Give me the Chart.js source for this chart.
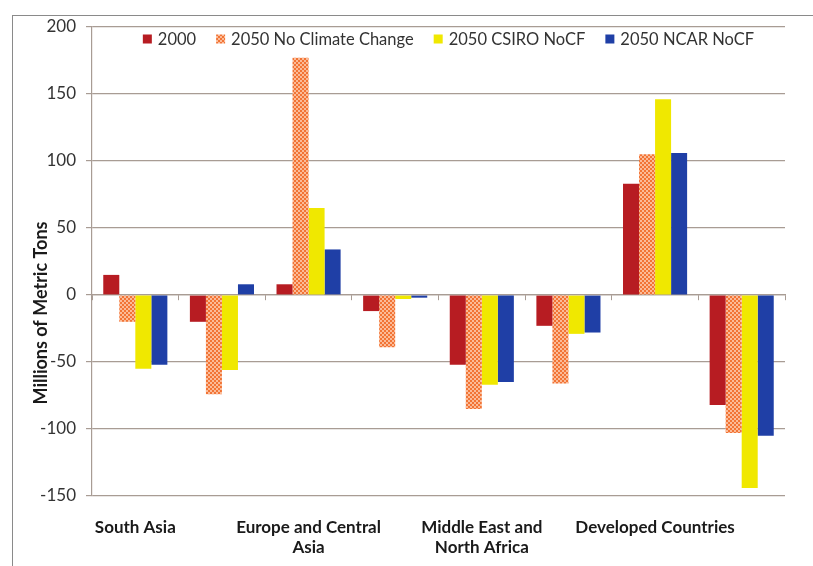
<!DOCTYPE html>
<html>
<head>
<meta charset="utf-8">
<title>Millions of Metric Tons</title>
<script src="https://cdn.jsdelivr.net/npm/chart.js@4.4.1/dist/chart.umd.min.js"></script>
<style>
  html, body { margin: 0; padding: 0; background: #fff; }
  #wrap { position: relative; width: 813px; height: 566px; }
  #frame { position: absolute; left: 12px; top: 15px; width: 820px; height: 580px;
           border-left: 1.5px solid #8a8a8a; border-top: 1.5px solid #8a8a8a; }
  canvas { position: absolute; left: 0; top: 0; }
</style>
</head>
<body>
<div id="wrap">
  <div id="frame"></div>
  <canvas id="myChart" width="813" height="566"></canvas>
</div>
<script>
// regions (only every other label is shown, like the original)
const regions = [
  "South Asia",
  "East Asia and Pacific",
  "Europe and Central Asia",
  "Latin America and Caribbean",
  "Middle East and North Africa",
  "Sub-Saharan Africa",
  "Developed Countries",
  "Developing Countries",
];
const shownLabels = {
  0: ["South Asia"],
  2: ["Europe and Central", "Asia"],
  4: ["Middle East and", "North Africa"],
  6: ["Developed Countries"],
};

const y2000 = [15, -20, 8, -12, -52, -23, 83, -82];
const noClimateChange = [-20, -74, 177, -39, -85, -66, 105, -103];
const csiroNoCF = [-55, -56, 65, -3, -67, -29, 146, -144];
const ncarNoCF = [-52, 8, 34, -2, -65, -28, 106, -105];

const yTicks = [200, 150, 100, 50, 0, -50, -100, -150];

// dotted orange fill for the no-climate-change series
function dotPattern() {
  const c = document.createElement("canvas");
  c.width = 4;
  c.height = 4;
  const g = c.getContext("2d");
  g.fillStyle = "#f27435";
  g.fillRect(0, 0, 4, 4);
  g.fillStyle = "#fbbb98";
  g.fillRect(0, 0, 2, 2);
  g.fillRect(2, 2, 2, 2);
  return g.createPattern(c, "repeat");
}

const yTitlePlugin = {
  id: "yTitle",
  afterDraw(chart) {
    const ctx = chart.ctx;
    ctx.save();
    ctx.translate(41, 313);
    ctx.rotate(-Math.PI / 2);
    ctx.font = "bold 18px Lato";
    ctx.fillStyle = "#1a1a1a";
    ctx.textAlign = "center";
    ctx.textBaseline = "middle";
    ctx.fillText("Millions of Metric Tons", 0, 0);
    ctx.restore();
  },
};

// legend sits inside the plot, in one row just under the top line
const topLegendPlugin = {
  id: "topLegend",
  afterDraw(chart) {
    const ctx = chart.ctx;
    const area = chart.chartArea;
    const box = 9, gapText = 6, gapItem = 20;
    ctx.save();
    ctx.font = "16.5px Lato";
    const items = chart.data.datasets.map((ds) => ({
      label: ds.label,
      fill: ds.backgroundColor,
      w: box + gapText + ctx.measureText(ds.label).width,
    }));
    const total = items.reduce((s, it) => s + it.w, 0) + gapItem * (items.length - 1);
    let x = (area.left + area.right) / 2 + 10 - total / 2;
    const y = area.top + 12;
    ctx.textBaseline = "middle";
    items.forEach((it) => {
      ctx.fillStyle = it.fill;
      ctx.fillRect(x, y - box / 2, box, box);
      ctx.fillStyle = "#333";
      ctx.fillText(it.label, x + box + gapText, y + 1);
      x += it.w + gapItem;
    });
    ctx.restore();
  },
};

const ctx = document.getElementById("myChart").getContext("2d");
const myChart = new Chart(ctx, {
  type: "bar",
  data: {
    labels: regions,
    datasets: [
      { label: "2000", backgroundColor: "#b71c22", data: y2000 },
      { label: "2050 No Climate Change", backgroundColor: dotPattern(), data: noClimateChange },
      { label: "2050 CSIRO NoCF", backgroundColor: "#f0e800", data: csiroNoCF },
      { label: "2050 NCAR NoCF", backgroundColor: "#1f3fa6", data: ncarNoCF },
    ],
  },
  options: {
    responsive: false,
    animation: false,
    devicePixelRatio: 1,
    categoryPercentage: 0.74,
    barPercentage: 1.0,
    layout: { padding: { top: 27, right: 28, left: 0, bottom: 0 } },
    plugins: {
      tooltip: { enabled: false },
      legend: { display: false },
    },
    scales: {
      x: {
        offset: true,
        grid: { display: false },
        border: { display: false },
        afterFit(scale) { scale.height = 70; },
        ticks: {
          autoSkip: false,
          maxRotation: 0,
          padding: 13,
          color: "#1a1a1a",
          font: { family: "Lato", size: 17, weight: "bold", lineHeight: 1.2 },
          callback(value, index) {
            return shownLabels[index] || "";
          },
        },
      },
      x2: {
        type: "category",
        position: { y: 0 },
        offset: true,
        grid: { offset: true, drawOnChartArea: false, drawTicks: true, tickLength: 5, color: "#a89c94" },
        border: { display: true, color: "#a89c94", width: 1.2 },
        ticks: { display: false },
      },
      y: {
        min: -150,
        max: 200,
        afterFit(scale) { scale.width = 92; },
        afterBuildTicks(scale) {
          scale.ticks = yTicks.map((v) => ({ value: v }));
        },
        grid: { color: "#a89c94", lineWidth: 1.2, tickLength: 6 },
        border: { color: "#a89c94", width: 1.2 },
        ticks: {
          padding: 10,
          color: "#333",
          font: { family: "Lato", size: 17 },
        },
      },
    },
  },
  plugins: [yTitlePlugin, topLegendPlugin],
});
</script>
</body>
</html>
